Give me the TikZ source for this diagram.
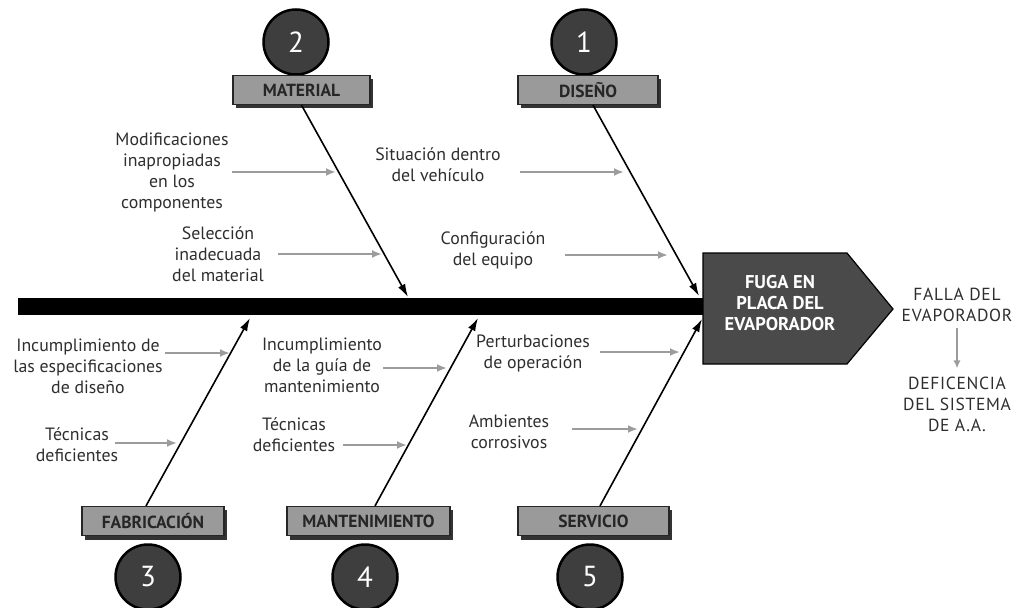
\documentclass[tikz,border=0pt]{standalone}
\usepackage{fontspec}
\setmainfont{PT Sans}
\usetikzlibrary{arrows.meta,calc}
\definecolor{txt}{HTML}{2E2E2E}
\definecolor{boxgray}{HTML}{9A9A9A}
\definecolor{circgray}{HTML}{3E3E3E}
\definecolor{headgray}{HTML}{4A4A4A}
\definecolor{arrgray}{HTML}{9C9C9C}
\tikzset{
  lbl/.style={align=center,text=txt,font=\fontsize{17.8}{21}\selectfont,inner sep=0pt},
  caps/.style={align=center,text=txt,font=\fontsize{17.5}{21}\selectfont\addfontfeatures{LetterSpace=4},inner sep=0pt},
  catbox/.style={draw=black!85,line width=1.2pt,fill=boxgray,minimum height=29pt,text=black!85,
    font=\bfseries\fontsize{17.5}{18}\selectfont,inner sep=0pt},
  numcirc/.style={circle,draw=black,line width=2.5pt,fill=circgray,minimum size=65pt,inner sep=0pt,
    text=white,font=\fontsize{29}{30}\selectfont},
  bone/.style={draw=black,line width=1.6pt,-{Latex[length=13pt,width=8pt]}},
  garrow/.style={draw=arrgray,line width=2pt,-{Latex[length=10pt,width=8pt]}},
}
\begin{document}
\begin{tikzpicture}[x=1pt,y=-1pt]
\useasboundingbox (0,0) rectangle (1024,607);

% spine
\fill[black] (18,298) rectangle (705,315);

% head
\draw[fill=headgray,draw=black,line width=1.2pt] (703,253) -- (847,253) -- (893,309) -- (847,364) -- (703,364) -- cycle;
\node[align=center,text=white,font=\bfseries\fontsize{18.5}{21}\selectfont,inner sep=0pt] (head) at (780,303) {FUGA EN\\PLACA DEL\\EVAPORADOR};

% right texts
\node[caps] (falla) at (957,305) {FALLA DEL\\EVAPORADOR};
\node[caps] (defic) at (957,404) {DEFICENCIA\\DEL SISTEMA\\DE A.A.};
\draw[draw=arrgray,line width=1.5pt,-{Latex[length=8pt,width=7pt]}] ([yshift=-6pt]falla.south) -- ([yshift=8pt]defic.north);

% top circles and boxes
\node[numcirc] (c2) at (296,42) {2};
\node[numcirc] (c1) at (584,42) {1};
\fill[black!80] (236,79) rectangle (373,108);
\node[catbox,minimum width=137pt] (mat) at (301.5,90) {MATERIAL};
\fill[black!80] (521,79) rectangle (661,108);
\node[catbox,minimum width=140pt] (dis) at (588,90) {DISEÑO};

% bottom circles and boxes
\node[numcirc] (c3) at (148,577) {3};
\node[numcirc] (c4) at (365,577) {4};
\node[numcirc] (c5) at (590,577) {5};
\fill[black!80] (85,510) rectangle (227,540);
\node[catbox,minimum width=142pt] (fab) at (153,521) {FABRICACIÓN};
\fill[black!80] (290,510) rectangle (453,540);
\node[catbox,minimum width=163pt] (man) at (368.5,521) {MANTENIMIENTO};
\fill[black!80] (521,510) rectangle (672,540);
\node[catbox,minimum width=151pt] (ser) at (593.5,521) {SERVICIO};

% bone tips
\coordinate (tmat) at (408,297);
\coordinate (tdis) at (699,296);
\coordinate (tfab) at (250,318);
\coordinate (tman) at (478,318);
\coordinate (tser) at (702,319);

\draw[bone] (mat.south) -- (tmat);
\draw[bone] ([xshift=5pt]dis.south) -- (tdis);
\draw[bone] ([xshift=-7pt]fab.north) -- (tfab);
\draw[bone] ([xshift=6.5pt]man.north) -- (tman);
\draw[bone] ([xshift=6.5pt]ser.north) -- (tser);

% cause texts
\node[lbl] (t1) at (172,172) {Modificaciones\\inapropiadas\\en los\\componentes};
\node[lbl] (t2) at (218,254) {Selección\\inadecuada\\del material};
\node[lbl] (t3) at (438,165) {Situación dentro\\del vehículo};
\node[lbl] (t4) at (493,250) {Configuración\\del equipo};
\node[lbl] (t5) at (88,366) {Incumplimiento de\\las especificaciones\\de diseño};
\node[lbl] (t6) at (77,445) {Técnicas\\deficientes};
\node[lbl] (t7) at (322,365) {Incumplimiento\\de la guía de\\mantenimiento};
\node[lbl] (t8) at (294,435) {Técnicas\\deficientes};
\node[lbl] (t9) at (533,353) {Perturbaciones\\de operación};
\node[lbl] (t10) at (509,432) {Ambientes\\corrosivos};

% cause arrows
\coordinate (a1s) at (232,172); \coordinate (a1e) at (336,172);
\coordinate (a2s) at (278,254); \coordinate (a2e) at (382,254);
\coordinate (a3s) at (520,172); \coordinate (a3e) at (624,172);
\coordinate (a4s) at (565,255); \coordinate (a4e) at (668,255);
\coordinate (a5s) at (165,353); \coordinate (a5e) at (230,353);
\coordinate (a6s) at (115,443); \coordinate (a6e) at (177,443);
\coordinate (a7s) at (383,368); \coordinate (a7e) at (447,368);
\coordinate (a8s) at (343,445); \coordinate (a8e) at (407,445);
\coordinate (a9s) at (600,352); \coordinate (a9e) at (680,352);
\coordinate (a10s) at (572,429); \coordinate (a10e) at (638,429);
\foreach \i in {1,...,10} {\draw[garrow] (a\i s) -- (a\i e);}
\end{tikzpicture}
\end{document}
